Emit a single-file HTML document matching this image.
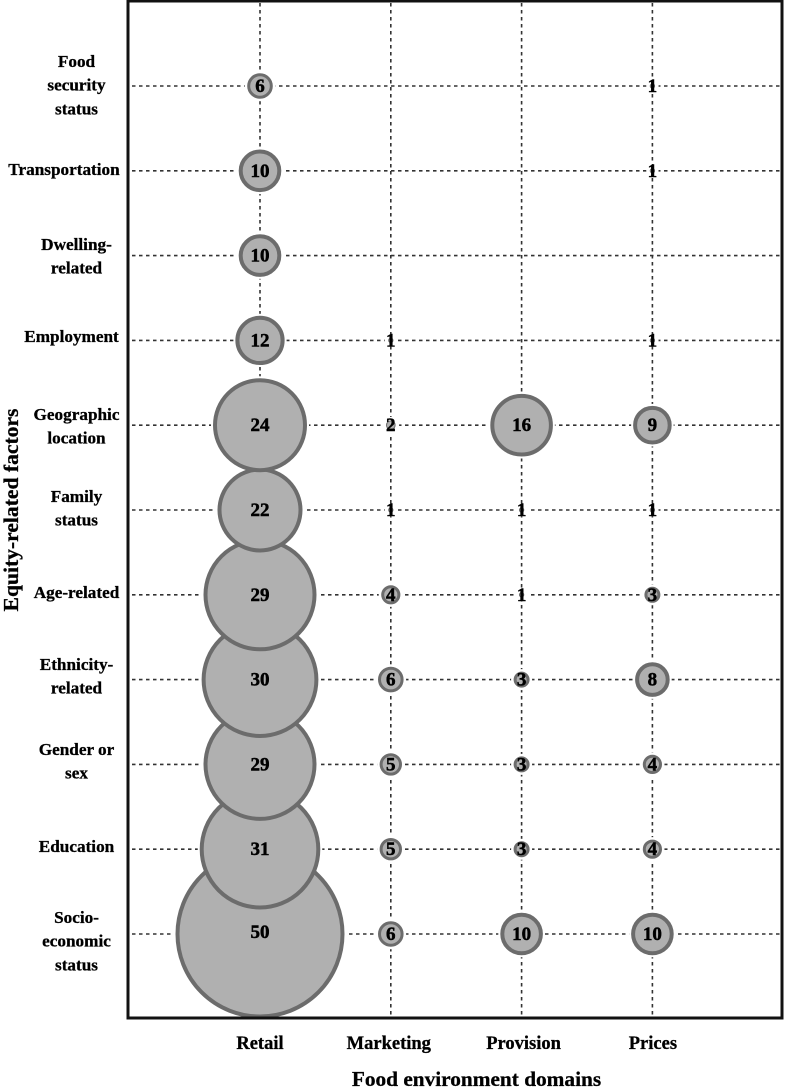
<!DOCTYPE html>
<html lang="en">
<head>
<meta charset="utf-8">
<title>Equity-related factors by food environment domains</title>
<style>
  html, body { margin: 0; padding: 0; background: #fff; }
  svg { display: block; font-family: "Liberation Serif", serif; font-weight: bold; fill: #000; filter: blur(0.35px); }
  text { stroke: #000; stroke-width: 0.3px; }
  #bubbles text { stroke-width: 0.5px; }
</style>
</head>
<body>
<svg id="chart" xmlns="http://www.w3.org/2000/svg" width="786" height="1088" viewBox="0 0 786 1088">
  <g id="grid"></g>
  <g id="halos"></g>
  <g id="bubbles"></g>
  <rect x="128" y="1" width="654" height="1017" fill="none" stroke="#111" stroke-width="3"></rect>
  <g id="y-ticks"></g>
  <g id="x-ticks"></g>
  <text x="476.5" y="1086" text-anchor="middle" font-size="21.3">Food environment domains</text>
  <text transform="translate(18 510) rotate(-90)" text-anchor="middle" font-size="21.6">Equity-related factors</text>
</svg>
<script>
const domains = ["Retail", "Marketing", "Provision", "Prices"];
const factors = [
  ["Food", "security", "status"],
  ["Transportation"],
  ["Dwelling-", "related"],
  ["Employment"],
  ["Geographic", "location"],
  ["Family", "status"],
  ["Age-related"],
  ["Ethnicity-", "related"],
  ["Gender or", "sex"],
  ["Education"],
  ["Socio-", "economic", "status"]
];
const retail = [6, 10, 10, 12, 24, 22, 29, 30, 29, 31, 50];
const marketing = [null, null, null, 1, 2, 1, 4, 6, 5, 5, 6];
const provision = [null, null, null, null, 16, 1, 1, 3, 3, 3, 10];
const prices = [1, 1, null, 1, 9, 1, 3, 8, 4, 4, 10];

const NS = "http://www.w3.org/2000/svg";
const seriesList = [retail, marketing, provision, prices];

function xScale(col) { return 260 + 130.8 * col; }
function yScale(row) { return 86 + 84.8 * row; }
const sizeKnotsValue = [0, 3, 6, 10, 16, 22, 24, 31, 50];
const sizeKnotsRadius = [0, 6.5, 11.3, 19.3, 29.3, 40.5, 45, 58.3, 82.5];
function rScale(v) {
  for (let i = 1; i < sizeKnotsValue.length; i++) {
    if (v <= sizeKnotsValue[i]) {
      const t = (v - sizeKnotsValue[i - 1]) / (sizeKnotsValue[i] - sizeKnotsValue[i - 1]);
      return sizeKnotsRadius[i - 1] + t * (sizeKnotsRadius[i] - sizeKnotsRadius[i - 1]);
    }
  }
  return sizeKnotsRadius[sizeKnotsRadius.length - 1];
}
function make(tag, attrs, parent) {
  const el = document.createElementNS(NS, tag);
  for (const k in attrs) el.setAttribute(k, attrs[k]);
  parent.appendChild(el);
  return el;
}

const grid = document.getElementById("grid");
const halos = document.getElementById("halos");
const bubbles = document.getElementById("bubbles");
const yTicks = document.getElementById("y-ticks");
const xTicks = document.getElementById("x-ticks");

const xLabelNudge = [0, -2, 2, 0.5];
domains.forEach(function (name, col) {
  const line = make("line", { x1: xScale(col), x2: xScale(col), y1: 3, y2: 1016, stroke: "#333", "stroke-width": 1.6, "stroke-dasharray": "3.5 3.5" }, grid);
  
  
  const label = make("text", { x: xScale(col) + xLabelNudge[col], y: 1049, "text-anchor": "middle", "font-size": 18.5 }, xTicks);
  
  
  label.textContent = name;
});

const yLabelNudge = [-19, 4, -5.6, 1.6, -5.2, -8, 3.2, -9.6, -9.4, 2.8, -11];
factors.forEach(function (lines, row) {
  const line = make("line", { x1: 132, x2: 780, y1: yScale(row), y2: yScale(row), stroke: "#333", "stroke-width": 1.6, "stroke-dasharray": "3.5 3.5" }, grid);
  
  
  const label = make("text", { "text-anchor": "middle", "font-size": 17.2 }, yTicks);
  
  
  const cx = lines[0] === "Transportation" ? 64 : lines[0] === "Employment" ? 71.5 : 76.5;
  const top = yScale(row) + yLabelNudge[row];
  lines.forEach(function (txt, i) {
    const span = make("tspan", { x: cx, y: top + i * 23.7 }, label);
    span.textContent = txt;
  });
});

for (let row = factors.length - 1; row >= 0; row--) {
  seriesList.forEach(function (series, col) {
    const v = series[row];
    if (v === null) return;
    const r = rScale(v);
    const halo = make("circle", { cx: xScale(col), cy: yScale(row), r: r + 4, fill: "#fff" }, halos);
    
    
    const c = make("circle", { cx: xScale(col), cy: yScale(row), r: r, fill: "#b0b0b0", stroke: "#6c6c6c", "stroke-width": v > 2 ? (v > 6 ? 4 : 3) : 1 }, bubbles);
    
    
  });
}
for (let row = factors.length - 1; row >= 0; row--) {
  seriesList.forEach(function (series, col) {
    const v = series[row];
    if (v === null) return;
    const t = make("text", { x: xScale(col), y: yScale(row) + (v === 50 ? 4 : 6), "text-anchor": "middle", "font-size": 19 }, bubbles);
    
    
    t.textContent = v;
  });
}
</script>
</body>
</html>
